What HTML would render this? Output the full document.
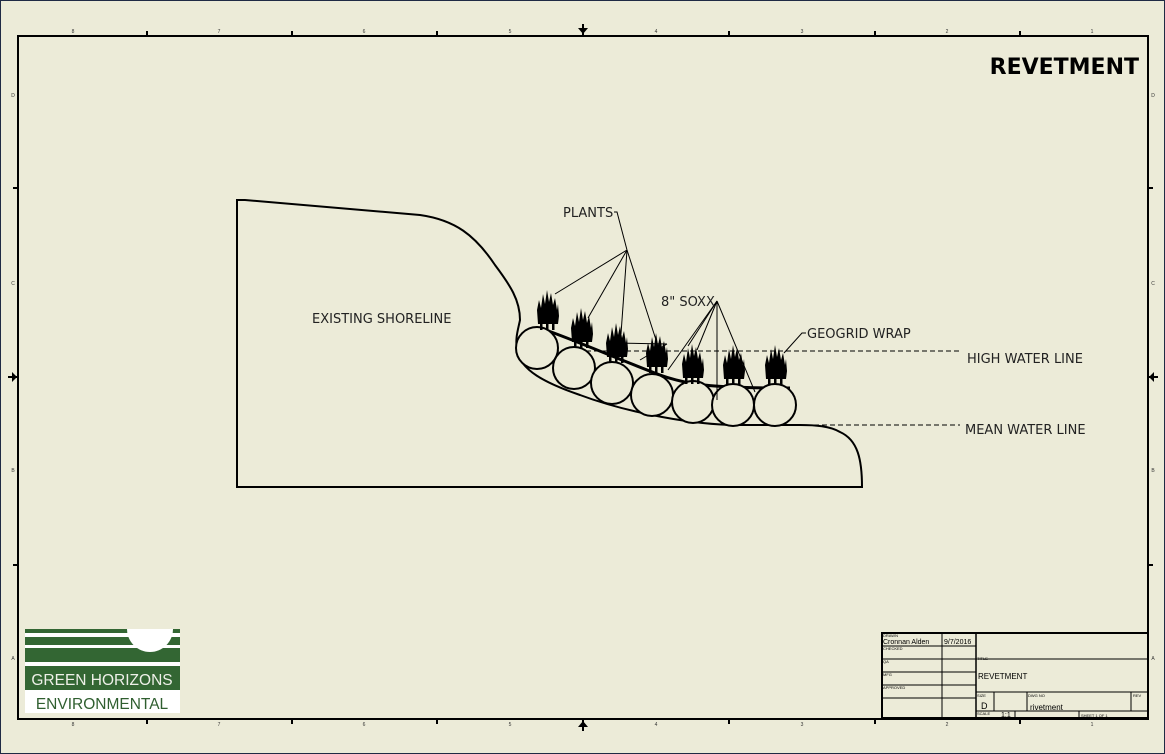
<!DOCTYPE html>
<html><head><style>
html,body{margin:0;padding:0;background:#ecebd8;}
svg{display:block;font-family:"Liberation Sans","DejaVu Sans",sans-serif;}
</style></head><body>
<svg width="1165" height="754" viewBox="0 0 1165 754" xmlns="http://www.w3.org/2000/svg">
<defs>
<g id="pl">
<path d="M-10,12 L-11,-2 L-9,-12 L-7,-4 L-5,-18 L-3,-8 L-1,-22 L1,-10 L3,-19 L5,-7 L7,-14 L9,-2 L10,-8 L11,4 L10,12 Z" fill="#000"/>
<rect x="-8" y="11" width="2.5" height="7" fill="#000"/><rect x="-2" y="11" width="2.5" height="7" fill="#000"/><rect x="4" y="11" width="2.5" height="7" fill="#000"/>
</g>
</defs>
<rect x="0.5" y="0.5" width="1164" height="753" fill="#ecebd8" stroke="#1f2a44"/>
<rect x="18" y="36" width="1130" height="683" fill="none" stroke="#000" stroke-width="2"/>
<g stroke="#000" stroke-width="2">
<line x1="147" y1="31" x2="147" y2="36"/><line x1="292" y1="31" x2="292" y2="36"/><line x1="437" y1="31" x2="437" y2="36"/><line x1="729" y1="31" x2="729" y2="36"/><line x1="875" y1="31" x2="875" y2="36"/><line x1="1020" y1="31" x2="1020" y2="36"/>
<line x1="147" y1="719" x2="147" y2="724"/><line x1="292" y1="719" x2="292" y2="724"/><line x1="437" y1="719" x2="437" y2="724"/><line x1="729" y1="719" x2="729" y2="724"/><line x1="875" y1="719" x2="875" y2="724"/><line x1="1020" y1="719" x2="1020" y2="724"/>
<line x1="13" y1="188" x2="18" y2="188"/><line x1="13" y1="565" x2="18" y2="565"/><line x1="1148" y1="188" x2="1153" y2="188"/><line x1="1148" y1="565" x2="1153" y2="565"/>
<line x1="583" y1="24" x2="583" y2="36"/><line x1="583" y1="719" x2="583" y2="731"/><line x1="8" y1="377" x2="18" y2="377"/><line x1="1148" y1="377" x2="1158" y2="377"/>
</g>
<g fill="#000"><path d="M578,28 L588,28 L583,34 Z"/><path d="M578,727 L588,727 L583,721 Z"/><path d="M12,372 L12,382 L17,377 Z"/><path d="M1154,372 L1154,382 L1149,377 Z"/></g>
<g font-size="5" fill="#333" text-anchor="middle">
<text x="73" y="33">8</text><text x="219" y="33">7</text><text x="364" y="33">6</text><text x="510" y="33">5</text><text x="656" y="33">4</text><text x="802" y="33">3</text><text x="947" y="33">2</text><text x="1092" y="33">1</text>
<text x="73" y="726">8</text><text x="219" y="726">7</text><text x="364" y="726">6</text><text x="510" y="726">5</text><text x="656" y="726">4</text><text x="802" y="726">3</text><text x="947" y="726">2</text><text x="1092" y="726">1</text>
<text x="13" y="97">D</text><text x="13" y="285">C</text><text x="13" y="472">B</text><text x="13" y="660">A</text>
<text x="1153" y="97">D</text><text x="1153" y="285">C</text><text x="1153" y="472">B</text><text x="1153" y="660">A</text>
</g>
<text x="1139" y="74" font-size="22" font-weight="bold" text-anchor="end" fill="#000" font-family="DejaVu Sans, sans-serif">REVETMENT</text>
<path d="M237,200 L237,487 L862,487 C862,460 858,440 840,432 C830,426 815,425 800,425 L730,425 C680,423 620,410 580,395 C545,383 520,370 517,350 C515,338 518,330 520,320 C520,300 510,285 495,265 C475,235 455,220 420,215 Q330,207 245,200 Z" fill="none" stroke="#000" stroke-width="2"/>
<path d="M540,328 C575,340 620,360 660,375 C690,386 720,388 790,388" fill="none" stroke="#000" stroke-width="3"/>
<line x1="522" y1="351" x2="960" y2="351" stroke="#000" stroke-dasharray="5,3"/>
<line x1="798" y1="425" x2="960" y2="425" stroke="#000" stroke-dasharray="5,3"/>
<g fill="#ecebd8" stroke="#000" stroke-width="2">
<circle cx="537" cy="348" r="21"/><circle cx="574" cy="368" r="21"/><circle cx="612" cy="383" r="21"/><circle cx="652" cy="395" r="21"/><circle cx="693" cy="402" r="21"/><circle cx="733" cy="405" r="21"/><circle cx="775" cy="405" r="21"/>
</g>
<use href="#pl" x="548" y="312"/><use href="#pl" x="582" y="330"/><use href="#pl" x="617" y="345"/><use href="#pl" x="657" y="355"/><use href="#pl" x="693" y="366"/><use href="#pl" x="734" y="367"/><use href="#pl" x="776" y="367"/>
<g stroke="#000" stroke-width="1" fill="none">
<path d="M614,212 L617,212 L627,250"/>
<line x1="627" y1="250" x2="555" y2="294"/><line x1="627" y1="250" x2="588" y2="318"/><line x1="627" y1="250" x2="621" y2="334"/><line x1="627" y1="250" x2="657" y2="343"/>
<line x1="717" y1="301" x2="688" y2="346"/><line x1="717" y1="301" x2="668" y2="370"/><line x1="717" y1="301" x2="697" y2="350"/><line x1="717" y1="301" x2="717" y2="400"/><line x1="717" y1="301" x2="755" y2="392"/>
<line x1="667" y1="344" x2="612" y2="343"/><line x1="667" y1="344" x2="640" y2="360"/>
<path d="M806,333 L802,333 L784,353"/>
</g>
<g font-size="13" fill="#222" font-family="DejaVu Sans, sans-serif">
<text x="563" y="217">PLANTS</text>
<text x="661" y="306">8" SOXX</text>
<text x="807" y="338">GEOGRID WRAP</text>
<text x="967" y="363">HIGH WATER LINE</text>
<text x="965" y="434">MEAN WATER LINE</text>
<text x="312" y="323">EXISTING SHORELINE</text>
</g>
<rect x="25" y="629" width="155" height="84" fill="#fff"/>
<rect x="25" y="629" width="155" height="4" fill="#336633"/>
<rect x="25" y="637" width="155" height="8" fill="#336633"/>
<rect x="25" y="648" width="155" height="14" fill="#336633"/>
<rect x="25" y="666" width="155" height="24" fill="#336633"/>
<path d="M127,629 A23,23 0 0 0 173,629 Z" fill="#fff"/>
<text x="102" y="685" font-size="15.5" fill="#eef0e8" text-anchor="middle">GREEN HORIZONS</text>
<text x="102" y="709" font-size="15.5" fill="#2f5e2f" text-anchor="middle">ENVIRONMENTAL</text>
<g stroke="#000" fill="none">
<rect x="882" y="633" width="266" height="85" stroke-width="2"/>
<line x1="942" y1="633" x2="942" y2="718"/><line x1="976" y1="633" x2="976" y2="718" stroke-width="1.5"/>
<line x1="882" y1="646" x2="976" y2="646"/><line x1="882" y1="659" x2="1148" y2="659"/><line x1="882" y1="672" x2="976" y2="672"/><line x1="882" y1="685" x2="976" y2="685"/><line x1="882" y1="698" x2="976" y2="698"/>
<line x1="976" y1="692" x2="1148" y2="692"/><line x1="976" y1="711" x2="1148" y2="711"/>
<line x1="994" y1="692" x2="994" y2="711"/><line x1="1027" y1="692" x2="1027" y2="711"/><line x1="1131" y1="692" x2="1131" y2="711"/>
<line x1="1015" y1="711" x2="1015" y2="718"/><line x1="1079" y1="711" x2="1079" y2="718"/>
</g>
<g font-size="4" fill="#000">
<text x="883" y="637">DRAWN</text><text x="883" y="650">CHECKED</text><text x="883" y="663">QA</text><text x="883" y="676">MFG</text><text x="883" y="689">APPROVED</text>
<text x="977" y="660">TITLE</text><text x="977" y="697">SIZE</text><text x="1028" y="697">DWG NO</text><text x="1133" y="697">REV</text><text x="977" y="715">SCALE</text><text x="1081" y="717">SHEET 1 OF 1</text>
</g>
<g font-size="7" fill="#000"><text x="883" y="644">Cronnan Alden</text><text x="944" y="644">9/7/2016</text><text x="1001" y="717">1:1</text></g>
<text x="978" y="679" font-size="8" fill="#000">REVETMENT</text>
<text x="981" y="709" font-size="9" fill="#000">D</text>
<text x="1030" y="710" font-size="8" fill="#000">rivetment</text>
</svg>
</body></html>
